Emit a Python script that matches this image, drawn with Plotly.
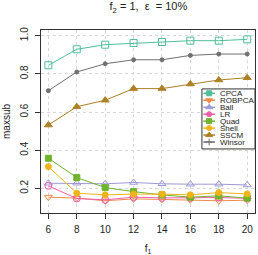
import plotly.graph_objects as go

f1 = [6, 8, 10, 12, 14, 16, 18, 20]
CPCA = [0.845, 0.929, 0.953, 0.962, 0.967, 0.974, 0.974, 0.981]
ROBPCA = [0.154, 0.149, 0.135, 0.145, 0.142, 0.140, 0.135, 0.138]
Ball = [0.227, 0.227, 0.224, 0.231, 0.224, 0.222, 0.222, 0.218]
LR = [0.213, 0.147, 0.140, 0.154, 0.150, 0.150, 0.152, 0.148]
Quad = [0.358, 0.257, 0.204, 0.183, 0.166, 0.154, 0.161, 0.149]
Shell = [0.314, 0.175, 0.166, 0.170, 0.170, 0.166, 0.178, 0.171]
SSCM = [0.532, 0.628, 0.662, 0.723, 0.723, 0.747, 0.768, 0.780]
Winsor = [0.712, 0.810, 0.853, 0.874, 0.874, 0.897, 0.904, 0.904]

series = [
    ("CPCA", CPCA, "#4fbf98", "square-open", 7, "square", 5),
    ("ROBPCA", ROBPCA, "#ee8a4c", "triangle-down-open", 7, "triangle-down", 6),
    ("Ball", Ball, "#9d99d4", "triangle-up-open", 7, "triangle-up", 6),
    ("LR", LR, "#ec5fa8", "circle-open", 7, "circle", 5),
    ("Quad", Quad, "#6fb42c", "square", 6, "square", 5),
    ("Shell", Shell, "#f0b41a", "circle", 6, "circle", 5),
    ("SSCM", SSCM, "#ae8026", "triangle-up", 7, "triangle-up", 6),
    ("Winsor", Winsor, "#707070", "circle", 4, "cross-thin", 5),
]

fig = go.Figure()
for name, vals, col, sym, sz, _, _ in series:
    fig.add_trace(go.Scatter(
        x=f1, y=vals, name=name, mode="lines+markers", showlegend=False,
        line=dict(color=col, width=1),
        marker=dict(symbol=sym, size=sz, color=col, line=dict(color=col, width=1)),
    ))

# Legend drawn on an overlay axis with 0..1 range
lx0, lx1, ly0, ly1 = 0.752, 1.0, 0.35, 0.678
fig.add_trace(go.Scatter(
    x=[lx0, lx1, lx1, lx0, lx0], y=[ly0, ly0, ly1, ly1, ly0],
    xaxis="x2", yaxis="y2", mode="lines", fill="toself", fillcolor="white",
    line=dict(color="#333333", width=1), showlegend=False, hoverinfo="skip",
))
annotations = []
for i, (name, vals, col, sym, sz, lsym, lsz) in enumerate(series):
    yp = 93.3 + i * 6.96
    yv = (213 - yp) / 183
    xa, xb = (203.3 - 41) / 214, (215 - 41) / 214
    fig.add_trace(go.Scatter(
        x=[xa, xb], y=[yv, yv], xaxis="x2", yaxis="y2", mode="lines",
        line=dict(color=col, width=1.5), showlegend=False, hoverinfo="skip",
    ))
    fig.add_trace(go.Scatter(
        x=[(xa + xb) / 2], y=[yv], xaxis="x2", yaxis="y2", mode="markers",
        marker=dict(symbol=lsym, size=lsz, color=col, line=dict(color=col, width=1)),
        showlegend=False, hoverinfo="skip",
    ))
    annotations.append(dict(
        x=(218.3 - 41) / 214, y=yv, xref="x2", yref="y2", text=name,
        showarrow=False, xanchor="left", yanchor="middle",
        font=dict(size=8, color="#222222"),
    ))

axis_common = dict(
    showline=True, linecolor="#333333", linewidth=1, mirror=True,
    ticks="outside", ticklen=5, tickcolor="#333333",
    showgrid=True, gridcolor="#d8d8d8", griddash="dot", gridwidth=1,
    zeroline=False, tickfont=dict(size=10, color="#222222"), automargin=False,
)

fig.update_layout(
    width=258, height=255,
    margin=dict(l=41, r=3, t=30, b=42),
    paper_bgcolor="white", plot_bgcolor="white",
    font=dict(family="Liberation Sans, Arial, sans-serif", color="#222222"),
    title=dict(text="f<sub>2</sub> = 1,  ε  = 10%", x=0.575, xanchor="center",
               y=0.99, yanchor="top", font=dict(size=11)),
    xaxis=dict(range=[5.48, 20.55], tickvals=f1, ticktext=[str(v) for v in f1],
               ticklabelstandoff=2,
               title=dict(text="f<sub>1</sub>", font=dict(size=10), standoff=12),
               **axis_common),
    yaxis=dict(range=[0.071, 1.03], tickvals=[0.2, 0.4, 0.6, 0.8, 1.0],
               ticktext=["0.2", "0.4", "0.6", "0.8", "1.0"], tickangle=-90,
               ticklabelstandoff=3,
               title=dict(text="maxsub", font=dict(size=10), standoff=6),
               **axis_common),
    xaxis2=dict(overlaying="x", range=[0, 1], visible=False, fixedrange=True),
    yaxis2=dict(overlaying="y", range=[0, 1], visible=False, fixedrange=True),
    annotations=annotations,
    showlegend=False,
)

fig.write_html(
    "out.html",
    config={"displayModeBar": False},
    post_script="document.body.style.margin='0';document.body.style.overflow='hidden';",
)
